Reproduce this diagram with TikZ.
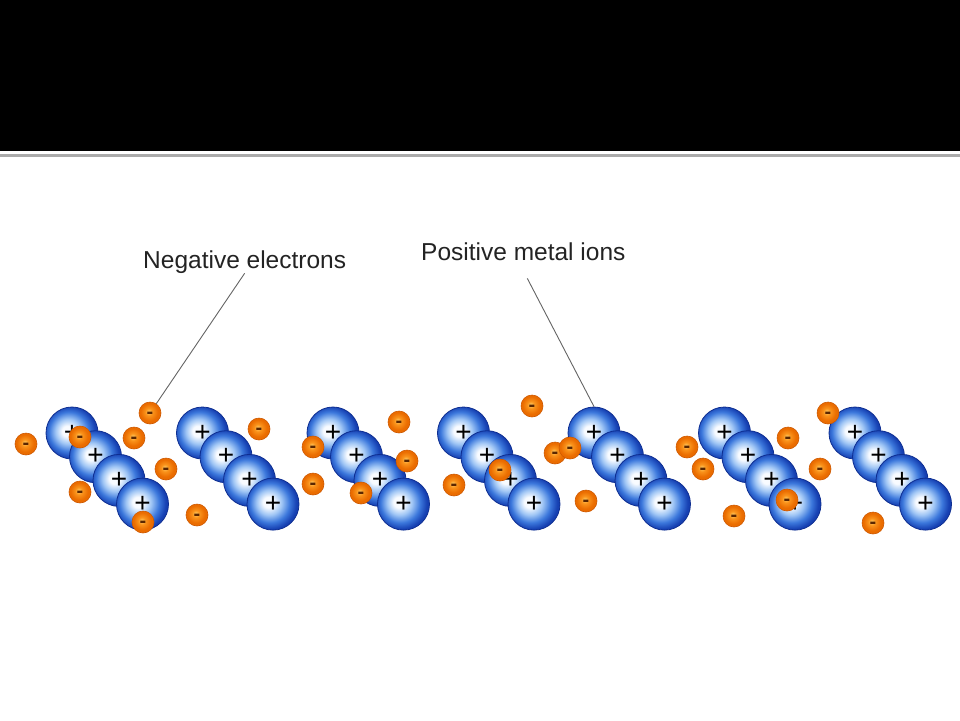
\documentclass[tikz,border=0pt]{standalone}
\usepackage{fontspec}
\setmainfont{Liberation Sans}
\definecolor{ionwhite}{RGB}{248,251,255}
\definecolor{ionlight}{RGB}{160,198,245}
\definecolor{ionmid}{RGB}{60,120,220}
\definecolor{iondark}{RGB}{22,64,178}
\definecolor{ionrim}{RGB}{14,46,145}
\definecolor{elight}{RGB}{255,210,110}
\definecolor{emid}{RGB}{250,148,28}
\definecolor{edark}{RGB}{234,108,0}
\definecolor{erim}{RGB}{205,88,0}
\definecolor{eminus}{RGB}{90,38,0}
\definecolor{leadgray}{RGB}{100,100,100}
\definecolor{lblgray}{RGB}{35,35,35}
\definecolor{rulegray}{RGB}{170,170,170}
\pgfdeclareradialshading{ionball}{\pgfpoint{-5bp}{2bp}}{color(0bp)=(ionwhite); color(5bp)=(ionwhite); color(12bp)=(ionlight); color(19bp)=(ionmid); color(25bp)=(iondark); color(50bp)=(iondark)}
\pgfdeclareradialshading{elecball}{\pgfpoint{-3bp}{3bp}}{color(0bp)=(elight); color(8bp)=(emid); color(20bp)=(edark); color(50bp)=(edark)}
\tikzset{
  ion/.style={circle, minimum size=52pt, inner sep=0pt, shading=ionball, draw=ionrim,
    line width=0.8pt, font=\fontsize{28}{28}\selectfont},
  elec/.style={circle, minimum size=22pt, inner sep=0pt, shading=elecball, draw=erim,
    line width=0.6pt, text=eminus, font=\bfseries\fontsize{20}{20}\selectfont,
    text height=10.5pt, text depth=0pt},
  leader/.style={draw=leadgray, line width=0.9pt},
  lbl/.style={inner sep=0pt, text=lblgray, font=\fontsize{24.5}{28}\selectfont}
}
\begin{document}
\begin{tikzpicture}[x=1pt,y=-1pt]
  \useasboundingbox (0,0) rectangle (960,720);
  % title band of the slide
  \fill[black] (0,0) rectangle (960,151);
  \draw[rulegray, line width=2.5pt] (0,155.5) -- (960,155.5);
  % metal ions: seven rows of four
  \foreach \c in {1,...,7}
    \foreach \k in {1,...,4}
      \node[ion] (i\c\k) at ({72+130.5*(\c-1)+23.5*(\k-1)}, {433+23.7*(\k-1)}) {+};
  % free electrons
  \foreach \x/\y [count=\n] in {26/444, 150/413, 80/437, 134/438, 166/469, 80/492,
      143/522, 197/515, 259/429, 313/447, 399/422, 407/461, 313/484, 361/493,
      454/485, 532/406, 500/470, 555/453, 570/448, 586/501, 687/447, 703/469,
      788/438, 820/469, 787/500, 734/516, 828/413, 873/523}
    \node[elec] (e\n) at (\x,\y) {-};
  % labels
  \node[lbl, anchor=base west] (neglbl) at (143,268) {Negative electrons};
  \node[lbl, anchor=base west] (poslbl) at (421,260) {Positive metal ions};
  \draw[leader] (neglbl.south) -- (e2);
  \draw[leader] ([shift={(4,18)}]poslbl.south) -- (i51.north);
\end{tikzpicture}
\end{document}
